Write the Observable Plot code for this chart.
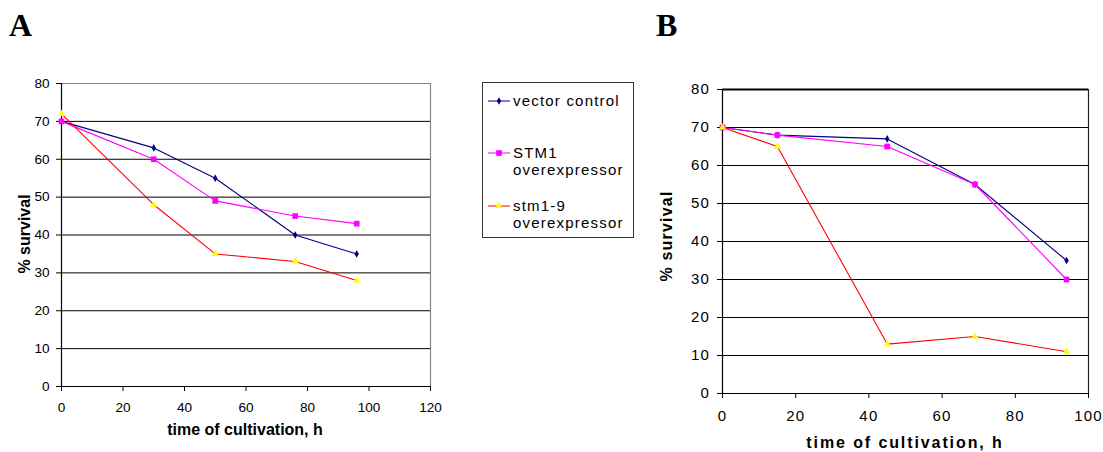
<!DOCTYPE html>
<html>
<head>
<meta charset="utf-8">
<script src="https://cdn.jsdelivr.net/npm/d3@7"></script>
<script src="https://cdn.jsdelivr.net/npm/@observablehq/plot@0.6"></script>
<style>
  html, body { margin: 0; padding: 0; background: #fff; }
  #root { position: relative; width: 1103px; height: 452px; overflow: hidden; font-family: "Liberation Sans", Arial, sans-serif; color: #000; }
  .abs { position: absolute; }
  .letter { font-family: "Liberation Serif", "Times New Roman", serif; font-weight: bold; font-size: 32px; line-height: 1; }
  .ttl { font-weight: bold; font-size: 16px; white-space: nowrap; line-height: 1; transform: translate(-50%, -50%); }
  .ytl { font-weight: bold; font-size: 16px; white-space: nowrap; line-height: 1; transform: translate(-50%, -50%) rotate(-90deg); }
  .leg { position: absolute; left: 482px; top: 82px; width: 152px; height: 156px; box-sizing: border-box; border: 1px solid #333; background: #fff; }
  .legtext { position: absolute; left: 30px; font-size: 15px; letter-spacing: 1.2px; line-height: 17px; white-space: nowrap; }
  .legsw { position: absolute; left: 5px; }
</style>
</head>
<body>
<div id="root"></div>
<script>
// ---------- data ----------
const seriesNames = ["vector control", "STM1 overexpressor", "stm1-9 overexpressor"];
const yTicks = [0, 10, 20, 30, 40, 50, 60, 70, 80];
const xTicksA = [0, 20, 40, 60, 80, 100, 120];
const xTicksB = [0, 20, 40, 60, 80, 100];

const hoursA = [0, 30, 50, 76, 96];
const vectorA = [70, 63, 55, 40, 35];
const stm1A = [70, 60, 49, 45, 43];
const stm19A = [72, 48, 35, 33, 28];

const hoursB = [0, 15, 45, 69, 94];
const vectorB = [70, 68, 67, 55, 35];
const stm1B = [70, 68, 65, 55, 30];
const stm19B = [70, 65, 13, 15, 11];

const xLabel = "time of cultivation, h";
const yLabel = "% survival";

// ---------- styles ----------
const seriesStyle = [
  { line: "#000080", fill: "#000080", symbol: "diamond", r: 2.3 },
  { line: "#FF00FF", fill: "#FF00FF", symbol: "square", r: 3.2 },
  { line: "#FF0000", fill: "#FFFF00", symbol: "triangle", r: 2.7 }
];

function panel(o) {
  const marks = [
    Plot.ruleY(yTicks.filter(v => v > 0 && v < 80), { stroke: "#000", strokeWidth: 1 }),
    Plot.ruleY([80], { stroke: o.topStroke, strokeWidth: o.topWidth }),
    Plot.ruleX([o.xMax], { stroke: o.rightStroke, strokeWidth: 1.2 }),
    Plot.ruleX([0], { stroke: "#000", strokeWidth: 1.2 }),
    Plot.ruleY([0], { stroke: "#000", strokeWidth: 1.2 }),
    Plot.axisY({ ticks: yTicks, tickSize: 5, tickPadding: o.padY, label: null, tickFormat: d => String(d) }),
    Plot.axisX({ ticks: o.xTicks, tickSize: 5, tickPadding: o.padX, label: null, tickFormat: d => String(d) })
  ];
  o.series.forEach((vals, k) => {
    const s = seriesStyle[k];
    const data = o.hours.map((h, i) => ({ h, v: vals[i], name: seriesNames[k] }));
    marks.push(Plot.line(data, { x: "h", y: "v", stroke: s.line, strokeWidth: 1.1 }));
    marks.push(Plot.dot(data, { x: "h", y: "v", symbol: s.symbol, r: s.r, fill: s.fill, stroke: "none" }));
  });
  return Plot.plot({
    width: o.width, height: o.height,
    marginLeft: o.ml, marginRight: o.mr, marginTop: o.mt, marginBottom: o.mb,
    x: { domain: [0, o.xMax] },
    y: { domain: [0, 80] },
    style: { fontFamily: '"Liberation Sans", Arial, sans-serif', fontSize: o.fontSize + "px", letterSpacing: o.ls, color: "#000", background: "transparent", overflow: "visible" },
    marks
  });
}

const root = document.getElementById("root");
function add(el, css) { Object.assign(el.style, css); el.classList.add("abs"); root.appendChild(el); return el; }
function div(cls, text, css) { const d = document.createElement("div"); d.className = cls; d.textContent = text; return add(d, css); }

// Panel A
const pA = panel({
  hours: hoursA, series: [vectorA, stm1A, stm19A], xMax: 120, xTicks: xTicksA,
  width: 450, height: 380, ml: 61, mr: 20, mt: 13, mb: 64,
  topStroke: "#888", topWidth: 1.2, rightStroke: "#888",
  fontSize: 13.6, ls: "0px", padY: 7, padX: 11
});
add(pA, { left: "0px", top: "70px" });

// Panel B
const pB = panel({
  hours: hoursB, series: [vectorB, stm1B, stm19B], xMax: 100, xTicks: xTicksB,
  width: 453, height: 382, ml: 72, mr: 15, mt: 19, mb: 59,
  topStroke: "#000", topWidth: 2.2, rightStroke: "#222",
  fontSize: 15, ls: "1.2px", padY: 7.5, padX: 11.5
});
add(pB, { left: "650px", top: "70px" });

// Letters
div("letter", "A", { left: "9px", top: "9px" });
div("letter", "B", { left: "656px", top: "9px" });

// Axis titles
div("ttl", xLabel, { left: "245px", top: "430px" });
div("ytl", yLabel, { left: "25px", top: "234px" });
div("ttl", xLabel, { left: "905px", top: "443px", letterSpacing: "1.9px" });
// B y title: bottom of text near y=283, reads upward
div("ytl", yLabel, { left: "667px", top: "236px", letterSpacing: "1.2px" });

// Legend
const leg = document.createElement("div");
leg.className = "leg";
root.appendChild(leg);
const legRows = [
  { lines: ["vector control"], top: 9, sw: 18 },
  { lines: ["STM1", "overexpressor"], top: 61, sw: 70 },
  { lines: ["stm1-9", "overexpressor"], top: 114, sw: 123 }
];
const NS = "http://www.w3.org/2000/svg";
legRows.forEach((row, k) => {
  const t = document.createElement("div");
  t.className = "legtext";
  t.style.top = row.top + "px";
  t.innerHTML = row.lines.join("<br>");
  leg.appendChild(t);
  const s = seriesStyle[k];
  const svg = document.createElementNS(NS, "svg");
  svg.setAttribute("width", 22); svg.setAttribute("height", 10);
  svg.setAttribute("class", "legsw");
  svg.style.top = row.sw - 5 + "px";
  const ln = document.createElementNS(NS, "line");
  ln.setAttribute("x1", 0); ln.setAttribute("x2", 22); ln.setAttribute("y1", 5); ln.setAttribute("y2", 5);
  ln.setAttribute("stroke", s.line);
  svg.appendChild(ln);
  const p = document.createElementNS(NS, "path");
  const sym = { diamond: d3.symbolDiamond, square: d3.symbolSquare, triangle: d3.symbolTriangle }[s.symbol];
  p.setAttribute("d", d3.symbol(sym, Math.PI * s.r * s.r)());
  p.setAttribute("transform", "translate(11,5)");
  p.setAttribute("fill", s.fill);
  svg.appendChild(p);
  leg.appendChild(svg);
});
</script>
</body>
</html>
